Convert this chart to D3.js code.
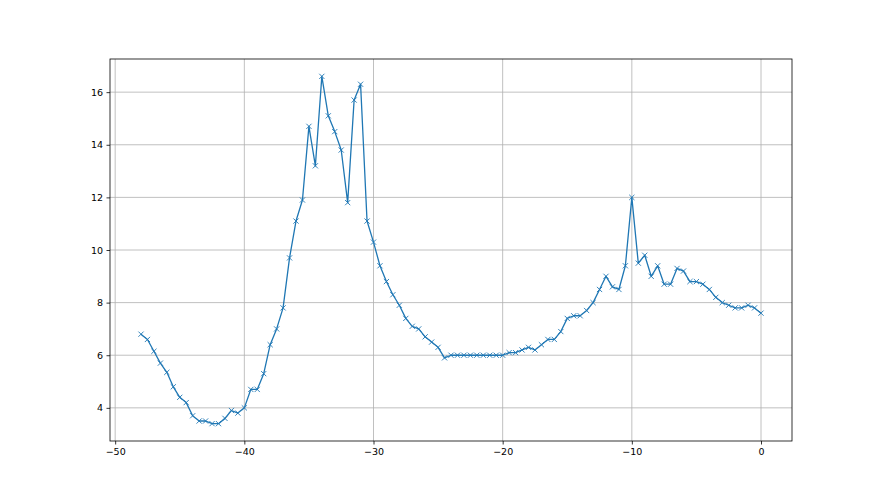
<!DOCTYPE html>
<html>
<head>
<meta charset="utf-8">
<script src="https://cdn.jsdelivr.net/npm/d3@7"></script>
<style>
  html, body { margin: 0; padding: 0; background: #fff; }
  svg { display: block; }
  .tick text { font-family: "DejaVu Sans", sans-serif; font-size: 9.5px; fill: #000; }
</style>
</head>
<body>
<svg id="chart" width="880" height="495"></svg>
<script>
const xValues = [
  -48, -47.5, -47, -46.5, -46, -45.5, -45, -44.5, -44, -43.5,
  -43, -42.5, -42, -41.5, -41, -40.5, -40, -39.5, -39, -38.5,
  -38, -37.5, -37, -36.5, -36, -35.5, -35, -34.5, -34, -33.5,
  -33, -32.5, -32, -31.5, -31, -30.5, -30, -29.5, -29, -28.5,
  -28, -27.5, -27, -26.5, -26, -25.5, -25, -24.5, -24, -23.5,
  -23, -22.5, -22, -21.5, -21, -20.5, -20, -19.5, -19, -18.5,
  -18, -17.5, -17, -16.5, -16, -15.5, -15, -14.5, -14, -13.5,
  -13, -12.5, -12, -11.5, -11, -10.5, -10, -9.5, -9, -8.5,
  -8, -7.5, -7, -6.5, -6, -5.5, -5, -4.5, -4, -3.5,
  -3, -2.5, -2, -1.5, -1, -0.5, 0
];
const yValues = [
  6.8, 6.6, 6.15, 5.7, 5.35, 4.8, 4.4, 4.2, 3.7, 3.5,
  3.5, 3.4, 3.4, 3.6, 3.9, 3.8, 4.0, 4.7, 4.7, 5.3,
  6.4, 7.0, 7.8, 9.7, 11.1, 11.9, 14.7, 13.2, 16.6, 15.1,
  14.5, 13.8, 11.8, 15.7, 16.3, 11.1, 10.3, 9.4, 8.8, 8.3,
  7.9, 7.4, 7.1, 7.0, 6.7, 6.5, 6.3, 5.9, 6.0, 6.0,
  6.0, 6.0, 6.0, 6.0, 6.0, 6.0, 6.0, 6.1, 6.1, 6.2,
  6.3, 6.2, 6.4, 6.6, 6.6, 6.9, 7.4, 7.5, 7.5, 7.7,
  8.0, 8.5, 9.0, 8.6, 8.5, 9.4, 12.0, 9.5, 9.8, 9.0,
  9.4, 8.7, 8.7, 9.3, 9.2, 8.8, 8.8, 8.7, 8.5, 8.2,
  8.0, 7.9, 7.8, 7.8, 7.9, 7.8, 7.6
];
const xTicks = [-50, -40, -30, -20, -10, 0];
const yTicks = [4, 6, 8, 10, 12, 14, 16];

(function () {
  const data = xValues.map((xv, i) => ({ x: xv, y: yValues[i] }));

  const mLeft = 110, mRight = 792, mTop = 59, mBottom = 441;
  const svg = d3.select("#chart");

  const xMin = d3.min(xValues), xMax = d3.max(xValues);
  const yMin = d3.min(yValues), yMax = d3.max(yValues);
  const xPad = (xMax - xMin) * 0.05, yPad = (yMax - yMin) * 0.05;

  const x = d3.scaleLinear().domain([xMin - xPad, xMax + xPad]).range([mLeft, mRight]);
  const y = d3.scaleLinear().domain([yMin - yPad, yMax + yPad]).range([mBottom, mTop]);

  // grid
  const grid = svg.append("g");
  grid.selectAll(".gx").data(xTicks).join("line").attr("class", "gx")
    .attr("x1", d => x(d)).attr("x2", d => x(d))
    .attr("y1", mTop).attr("y2", mBottom)
    .attr("stroke", "#b0b0b0").attr("stroke-width", 0.8);
  grid.selectAll(".gy").data(yTicks).join("line").attr("class", "gy")
    .attr("x1", mLeft).attr("x2", mRight)
    .attr("y1", d => y(d)).attr("y2", d => y(d))
    .attr("stroke", "#b0b0b0").attr("stroke-width", 0.8);

  // line
  const line = d3.line().x(d => x(d.x)).y(d => y(d.y));
  svg.append("path").datum(data)
    .attr("d", line).attr("fill", "none")
    .attr("stroke", "#1f77b4").attr("stroke-width", 1.3)
    .attr("stroke-linejoin", "round");

  // markers 'x'
  const m = 2.6;
  const mk = svg.append("g").attr("stroke", "#1f77b4").attr("stroke-width", 0.9);
  mk.selectAll("path").data(data).join("path")
    .attr("d", d => {
      const cx = x(d.x), cy = y(d.y);
      return `M${cx - m},${cy - m}L${cx + m},${cy + m}M${cx - m},${cy + m}L${cx + m},${cy - m}`;
    });

  // axes
  const xAxis = d3.axisBottom(x).tickValues(xTicks).tickSize(3.5).tickPadding(3.5)
    .tickFormat(d => d < 0 ? "\u2212" + Math.abs(d) : String(d));
  const yAxis = d3.axisLeft(y).tickValues(yTicks).tickSize(3.5).tickPadding(3.5)
    .tickFormat(d => String(d));

  const gx = svg.append("g").attr("transform", `translate(0,${mBottom})`).call(xAxis);
  gx.select(".domain").remove();
  gx.selectAll(".tick line").attr("stroke", "#000").attr("stroke-width", 0.8);

  const gy = svg.append("g").attr("transform", `translate(${mLeft},0)`).call(yAxis);
  gy.select(".domain").remove();
  gy.selectAll(".tick line").attr("stroke", "#000").attr("stroke-width", 0.8);

  // spines
  svg.append("rect").attr("x", mLeft).attr("y", mTop)
    .attr("width", mRight - mLeft).attr("height", mBottom - mTop)
    .attr("fill", "none").attr("stroke", "#000").attr("stroke-width", 0.8);
})();
</script>
</body>
</html>
